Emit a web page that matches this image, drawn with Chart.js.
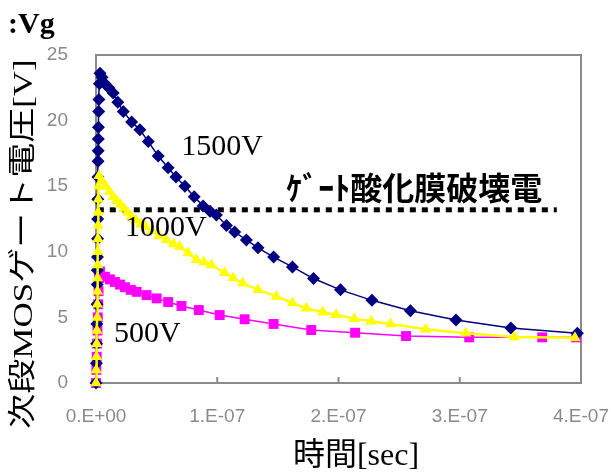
<!DOCTYPE html>
<html>
<head>
<meta charset="utf-8">
<script src="https://cdn.jsdelivr.net/npm/chart.js@4"></script>
<style>
html, body { margin: 0; padding: 0; background: #fff; }
</style>
</head>
<body>
<canvas id="vgChart" width="611" height="475"></canvas>
<script>
// time in ns (axis shows seconds), voltage in V
const xTickLabels = ["0.E+00", "1.E-07", "2.E-07", "3.E-07", "4.E-07"];
const yMax = 25;

// 1500V
const t1500 = [0, 0.3, 0.5, 0.7, 0.9, 1.0, 1.1, 1.2, 1.3, 1.4, 1.5, 1.6, 1.7, 1.8, 1.9, 2.0, 2.2, 2.4, 2.8, 3.3, 5,
  7.4, 10.5, 14.2, 18, 22.5, 29.4, 36.2, 43.1, 51.3, 59.5, 66, 73.3, 81, 88.3, 94, 99.3, 107.6, 114.4, 124, 133.6,
  146.5, 162, 179.4, 201.6, 227.6, 259.3, 296.9, 342.1, 397];
const v1500 = [0, 1.5, 3, 4.5, 6, 7.5, 8.6, 9.6, 11, 12.5, 14, 15.7, 16.9, 17.7, 18.6, 19.5, 20.7, 21.6, 22.8, 23.6, 23.3,
  22.8, 22.5, 22.1, 21.4, 20.7, 19.9, 19.3, 18.4, 17.3, 16.4, 15.7, 15.0, 14.2, 13.5, 13.1, 12.8, 12.0, 11.5, 10.9, 10.3,
  9.6, 8.85, 7.96, 7.1, 6.3, 5.5, 4.8, 4.2, 3.8];

// 1000V
const t1000 = [0, 0.2, 0.4, 0.6, 0.8, 1.0, 1.1, 1.2, 1.3, 1.4, 1.5, 1.6, 1.7, 1.8, 1.9, 2.1, 2.5,
  5, 8, 11, 14, 17, 20, 23, 26, 29, 33, 37, 41, 46, 52, 58, 64, 69, 76, 82.9, 89, 95.2, 106, 113, 121,
  133.6, 148.7, 162, 173.4, 187, 198, 213, 227, 243, 272, 305, 345, 395];
const v1000 = [0, 1, 2, 3, 4, 5, 6, 7, 8, 9, 10, 11, 12, 13, 14, 15, 15.8,
  15.4, 15.0, 14.6, 14.2, 13.9, 13.6, 13.3, 13.0, 12.7, 12.4, 12.1, 11.9, 11.6, 11.2, 10.9, 10.6, 10.4, 9.9, 9.4, 9.2, 9.0, 8.4, 8.0, 7.6,
  7.1, 6.6, 6.1, 5.7, 5.4, 5.2, 4.9, 4.7, 4.5, 4.1, 3.8, 3.5, 3.45];

// 500V
const t500 = [0, 0.3, 0.6, 0.9, 1.2, 1.5, 1.8, 2.1, 2.5, 3.3,
  7.4, 11.5, 15.6, 19.8, 23.9, 28.7, 33.5, 41.7, 50, 59.5, 70.5, 84.8, 102, 122.6, 146.5, 177.5, 213.7, 255.7, 307.8, 368, 396];
const v500 = [0, 1, 2, 3, 4, 5, 6, 7, 8, 8.5,
  8.1, 7.9, 7.7, 7.5, 7.3, 7.1, 6.95, 6.7, 6.45, 6.17, 5.87, 5.56, 5.18, 4.86, 4.5, 4.04, 3.83, 3.58, 3.48, 3.48, 3.48];

// gate oxide breakdown level
const breakdownT = [1.5, 380];
const breakdownV = [13.2, 13.2];

const pts = (xs, ys) => xs.map((x, i) => ({ x: x, y: ys[i] }));

const serif = "'Liberation Serif', 'Noto Sans CJK JP', serif";

// curve labels, in data units
const curveLabels = [
  { text: "1500V", t: 104, v: 18.0 },
  { text: "1000V", t: 57.6, v: 11.8 },
  { text: "500V", t: 42.4, v: 3.7 }
];

const annotate = {
  id: "annotate",
  beforeDatasetsDraw(chart) {
    const { ctx, chartArea: a, scales } = chart;
    ctx.save();
    ctx.strokeStyle = "#8a8a8a";
    ctx.lineWidth = 2;
    ctx.strokeRect(a.left, a.top, a.right - a.left, a.bottom - a.top);
    // inside tick marks on x axis
    scales.x.ticks.forEach(tk => {
      const px = scales.x.getPixelForValue(tk.value);
      ctx.beginPath();
      ctx.moveTo(px, a.bottom);
      ctx.lineTo(px, a.bottom - 6);
      ctx.stroke();
    });
    ctx.restore();
  },
  afterDatasetsDraw(chart) {
    const { ctx, scales } = chart;
    ctx.save();
    ctx.fillStyle = "#000";
    ctx.textAlign = "center";
    ctx.textBaseline = "middle";
    ctx.font = "30px " + serif;
    curveLabels.forEach(l => {
      ctx.fillText(l.text, scales.x.getPixelForValue(l.t), scales.y.getPixelForValue(l.v));
    });
    ctx.font = "bold 32px 'Noto Sans CJK JP', sans-serif";
    ctx.fillText("ｹﾞｰﾄ酸化膜破壊電", scales.x.getPixelForValue(262.5), scales.y.getPixelForValue(14.9));
    ctx.restore();
  },
  afterDraw(chart) {
    const ctx = chart.ctx;
    ctx.save();
    ctx.fillStyle = "#000";
    // chart title
    ctx.font = "bold 30px " + serif;
    ctx.textAlign = "left";
    ctx.textBaseline = "alphabetic";
    ctx.fillText(":Vg", 8, 33);
    // x title
    ctx.font = "32px " + serif;
    ctx.textAlign = "center";
    ctx.textBaseline = "middle";
    ctx.fillText("時間[sec]", 356, 457);
    // y title
    ctx.translate(25, 244);
    ctx.rotate(-Math.PI / 2);
    ctx.scale(1, 0.8);
    ctx.font = "35px " + serif;
    ctx.fillText("次段MOSゲート電圧[V]", 0, 0);
    ctx.restore();
  }
};

new Chart(document.getElementById("vgChart"), {
  type: "line",
  data: {
    datasets: [
      {
        label: "1000V",
        data: pts(t1000, v1000),
        borderColor: "#ffff00",
        backgroundColor: "#ffff00",
        borderWidth: 2.5,
        pointStyle: "triangle",
        pointRadius: 6.5,
        pointBorderWidth: 0,
        tension: 0,
        clip: false
      },
      {
        label: "1500V",
        data: pts(t1500, v1500),
        borderColor: "#000080",
        backgroundColor: "#000080",
        borderWidth: 1.5,
        pointStyle: "rectRot",
        pointRadius: 6.5,
        pointBorderWidth: 0,
        tension: 0,
        clip: false
      },
      {
        label: "500V",
        data: pts(t500, v500),
        borderColor: "#ff00ff",
        backgroundColor: "#ff00ff",
        borderWidth: 1.5,
        pointStyle: "rect",
        pointRadius: 7,
        pointBorderWidth: 0,
        tension: 0,
        clip: false
      },
      {
        label: "breakdown",
        data: pts(breakdownT, breakdownV),
        borderColor: "#000",
        borderWidth: 5,
        borderDash: [6, 6],
        pointRadius: 0,
        tension: 0,
        clip: false
      }
    ]
  },
  options: {
    responsive: false,
    animation: false,
    layout: { padding: { top: 55, right: 30, left: 0, bottom: 0 } },
    plugins: { legend: { display: false }, tooltip: { enabled: false } },
    scales: {
      x: {
        type: "linear",
        min: 0,
        max: 400,
        grid: { display: false },
        border: { display: false },
        afterFit: s => { s.height = 92; s.paddingLeft = 0; s.paddingRight = 0; },
        ticks: {
          stepSize: 100,
          maxRotation: 0,
          color: "#8a8a8a",
          padding: 14,
          font: { family: "'Liberation Sans', Arial, sans-serif", size: 19 },
          callback: (v) => xTickLabels[Math.round(v / 100)]
        }
      },
      y: {
        min: 0,
        max: yMax,
        grid: { display: false },
        border: { display: false },
        afterFit: s => { s.width = 96; s.paddingTop = 0; s.paddingBottom = 0; },
        ticks: {
          stepSize: 5,
          color: "#8a8a8a",
          padding: 20,
          font: { family: "'Liberation Sans', Arial, sans-serif", size: 19 }
        }
      }
    }
  },
  plugins: [annotate]
});
</script>
</body>
</html>
